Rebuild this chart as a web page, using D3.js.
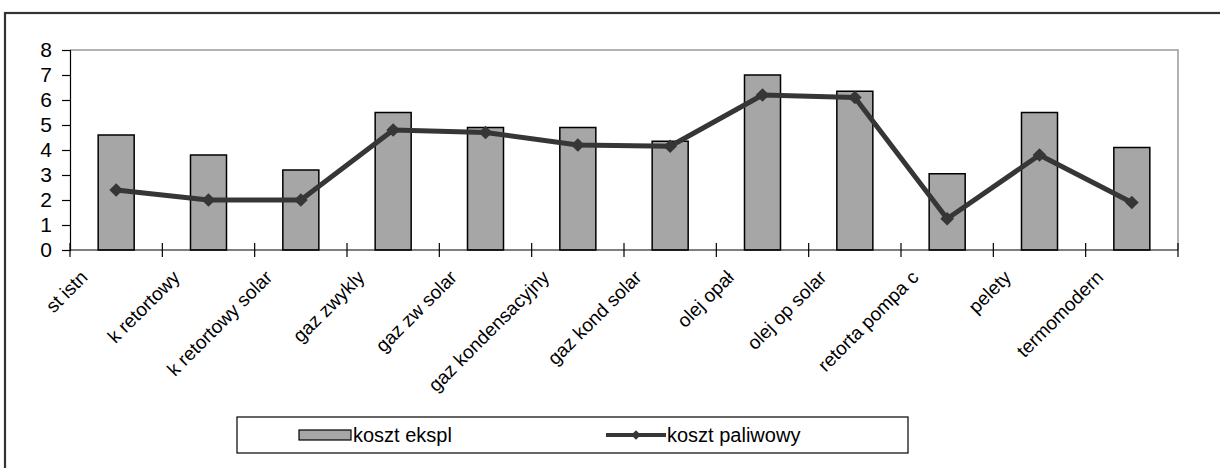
<!DOCTYPE html>
<html>
<head>
<meta charset="utf-8">
<script src="https://cdn.jsdelivr.net/npm/d3@7"></script>
<style>
  html, body { margin: 0; padding: 0; background: #fff; }
  svg { display: block; font-family: "Liberation Sans", Arial, sans-serif; }
</style>
</head>
<body>
<svg id="chart" width="1220" height="468"></svg>
<script>
// Heating variants and their costs
const categories = [
  "st istn", "k retortowy", "k retortowy solar", "gaz zwykly", "gaz zw solar",
  "gaz kondensacyjny", "gaz kond solar", "olej opał", "olej op solar",
  "retorta pompa c", "pelety", "termomodern"
];
const kosztEkspl = [4.6, 3.8, 3.2, 5.5, 4.9, 4.9, 4.35, 7.0, 6.35, 3.05, 5.5, 4.1];
const kosztPaliwowy = [2.4, 2.0, 2.0, 4.8, 4.7, 4.2, 4.15, 6.2, 6.1, 1.25, 3.8, 1.9];
const yTicks = [0, 1, 2, 3, 4, 5, 6, 7, 8];
const seriesNames = ["koszt ekspl", "koszt paliwowy"];

const svg = d3.select("#chart");

// outer chart frame (runs past the right and bottom edges)
svg.append("rect")
  .attr("x", 5).attr("y", 13)
  .attr("width", 1240).attr("height", 480)
  .attr("fill", "none").attr("stroke", "#333").attr("stroke-width", 2.2);

const plot = { left: 70, right: 1178, top: 50, bottom: 250 };

const x = d3.scaleBand()
  .domain(categories)
  .range([plot.left, plot.right])
  .paddingInner(0.61).paddingOuter(0.305);

const xCat = d3.scaleBand().domain(categories).range([plot.left, plot.right]);

const y = d3.scaleLinear().domain([0, 8]).range([plot.bottom, plot.top]);

// plot area border (top and right in grey)
svg.append("path")
  .attr("d", `M${plot.left},${plot.top}H${plot.right}V${plot.bottom}`)
  .attr("fill", "none").attr("stroke", "#999").attr("stroke-width", 1.5);

// bars
svg.append("g").selectAll("rect")
  .data(kosztEkspl)
  .join("rect")
  .attr("x", (d, i) => x(categories[i]))
  .attr("y", d => y(d))
  .attr("width", x.bandwidth())
  .attr("height", d => y(0) - y(d))
  .attr("fill", "#a6a6a6")
  .attr("stroke", "#000")
  .attr("stroke-width", 1.5);

// y axis
const yAxis = d3.axisLeft(y).tickValues(yTicks).tickSize(8).tickPadding(10).tickFormat(d3.format("d"));
const gy = svg.append("g").attr("transform", `translate(${plot.left},0)`).call(yAxis);
gy.select(".domain").attr("stroke", "#000").attr("stroke-width", 1.2);
gy.selectAll(".tick line").attr("stroke", "#000").attr("stroke-width", 1.2);
gy.selectAll(".tick text")
  .attr("font-size", 21).attr("fill", "#000")
  .attr("font-family", "Liberation Sans, Arial, sans-serif");

// x axis: tick marks crossing the axis at category boundaries
const gx = svg.append("g");
gx.append("line")
  .attr("x1", plot.left).attr("x2", plot.right)
  .attr("y1", y(0)).attr("y2", y(0))
  .attr("stroke", "#000").attr("stroke-width", 1.2);
const boundaries = categories.map(c => xCat(c)).concat([plot.right]);
gx.selectAll("line.tick")
  .data(boundaries)
  .join("line")
  .attr("class", "tick")
  .attr("x1", d => d).attr("x2", d => d)
  .attr("y1", y(0) - 7).attr("y2", y(0) + 7)
  .attr("stroke", "#000").attr("stroke-width", 1.2);

// rotated category labels
gx.selectAll("text")
  .data(categories)
  .join("text")
  .attr("transform", d => `translate(${xCat(d) + xCat.bandwidth() / 2 - 32},${y(0) + 24}) rotate(-45)`)
  .attr("text-anchor", "end")
  .attr("dominant-baseline", "central")
  .attr("font-size", 19)
  .attr("fill", "#000")
  .text(d => d);

// fuel cost line with diamond markers
const cx = c => x(c) + x.bandwidth() / 2;
const line = d3.line()
  .x((d, i) => cx(categories[i]))
  .y(d => y(d));
svg.append("path")
  .datum(kosztPaliwowy)
  .attr("d", line)
  .attr("fill", "none")
  .attr("stroke", "#363636")
  .attr("stroke-width", 5)
  .attr("stroke-linejoin", "round");

const diamond = d3.symbol().type(d3.symbolDiamond2).size(120);
svg.append("g").selectAll("path")
  .data(kosztPaliwowy)
  .join("path")
  .attr("transform", (d, i) => `translate(${cx(categories[i])},${y(d)})`)
  .attr("d", diamond)
  .attr("fill", "#363636");

// legend
const lg = svg.append("g");
lg.append("rect")
  .attr("x", 237).attr("y", 417).attr("width", 671).attr("height", 36)
  .attr("fill", "#fff").attr("stroke", "#000").attr("stroke-width", 1.2);
lg.append("rect")
  .attr("x", 299).attr("y", 430).attr("width", 52).attr("height", 10)
  .attr("fill", "#a6a6a6").attr("stroke", "#000").attr("stroke-width", 1.2);
lg.append("text")
  .attr("x", 353).attr("y", 442)
  .attr("font-size", 20).attr("fill", "#000")
  .text(seriesNames[0]);
lg.append("line")
  .attr("x1", 606).attr("x2", 666).attr("y1", 435).attr("y2", 435)
  .attr("stroke", "#363636").attr("stroke-width", 4);
lg.append("path")
  .attr("transform", "translate(636,435)")
  .attr("d", d3.symbol().type(d3.symbolDiamond2).size(60))
  .attr("fill", "#363636");
lg.append("text")
  .attr("x", 667).attr("y", 442)
  .attr("font-size", 20).attr("fill", "#000")
  .text(seriesNames[1]);
</script>
</body>
</html>
